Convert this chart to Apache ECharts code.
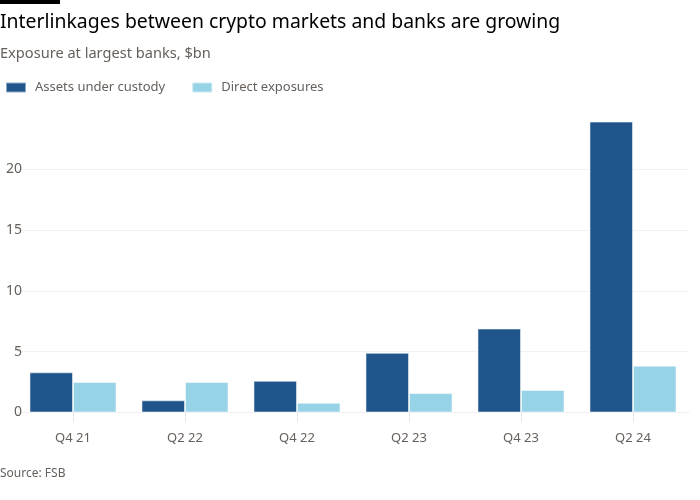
<!DOCTYPE html>
<html><head><meta charset="utf-8">
<script src="https://cdn.jsdelivr.net/npm/echarts@6/dist/echarts.min.js"></script>
<style>html,body{margin:0;padding:0;background:#fff}#c{width:700px;height:500px}</style>
</head><body><div id="c"></div>
<script>
const categories = ["Q4 21","Q2 22","Q4 22","Q2 23","Q4 23","Q2 24"];
const assetsUnderCustody = [3.3, 1.0, 2.6, 4.9, 6.9, 23.9];
const directExposures = [2.5, 2.5, 0.8, 1.6, 1.85, 3.85];
const yTicks = [0, 5, 10, 15, 20];

const chart = echarts.init(document.getElementById('c'), null, {renderer:'canvas'});
const font = '"Noto Sans", sans-serif';
chart.setOption({
  backgroundColor:'#ffffff',
  animation:false,
  graphic:[
    {type:'rect', left:0, top:0, shape:{width:60,height:4}, style:{fill:'#000'}},
    {type:'text', left:0, top:13, style:{text:'Interlinkages between crypto markets and banks are growing', fill:'#000', font:'19.4px '+font}},
    {type:'text', left:0, top:46, style:{text:'Exposure at largest banks, $bn', fill:'#66605c', font:'14.6px '+font}},
    {type:'text', left:0, top:468, style:{text:'Source: FSB', fill:'#66605c', font:'12px '+font}}
  ],
  legend:{
    left:0, top:76, itemWidth:20, itemHeight:10, itemGap:26, icon:'rect',
    textStyle:{color:'#66605c', fontSize:13, fontFamily:font, padding:[0,0,0,4]},
    data:['Assets under custody','Direct exposures']
  },
  grid:{left:17, right:11, top:120.4, bottom:87.5, containLabel:false},
  xAxis:{
    type:'category', data:categories,
    axisLine:{show:true, lineStyle:{color:'#f0f0f0'}},
    axisTick:{show:true, alignWithLabel:true, length:10, lineStyle:{color:'#e8e8e8'}},
    axisLabel:{color:'#66605c', fontSize:13, fontFamily:font, margin:19}
  },
  yAxis:{
    type:'value', min:0, max:24, interval:5,
    axisLine:{show:false}, axisTick:{show:false},
    axisLabel:{color:'#66605c', fontSize:14, fontFamily:font, margin:-5, showMaxLabel:false,
      formatter: v => yTicks.includes(v) ? String(v) : ''},
    splitLine:{show:true, showMaxLine:false, lineStyle:{color:'#f2f2f2'}}
  },
  series:[
    {name:'Assets under custody', type:'bar', data:assetsUnderCustody, barGap:'0%', barCategoryGap:'22.3%',
     itemStyle:{color:'#1f558b', borderColor:'rgba(255,255,255,0.5)', borderWidth:1}},
    {name:'Direct exposures', type:'bar', data:directExposures,
     itemStyle:{color:'#96d3e6', borderColor:'rgba(255,255,255,0.5)', borderWidth:1}}
  ]
});
</script></body></html>
